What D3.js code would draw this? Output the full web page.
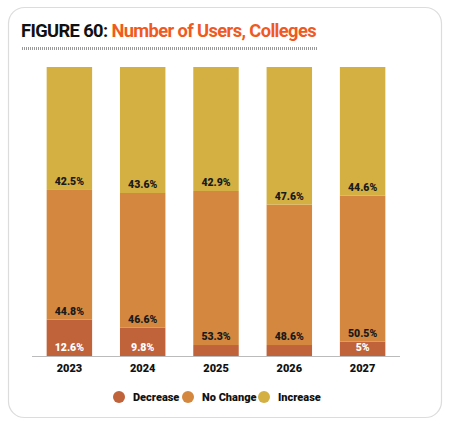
<!DOCTYPE html>
<html>
<head>
<meta charset="utf-8">
<script src="https://cdn.jsdelivr.net/npm/d3@7"></script>
<style>
  body { margin: 0; background: #fff; }
  svg { display: block; font-family: Roboto, "Liberation Sans", sans-serif; }
</style>
</head>
<body>
<svg id="chart"></svg>
<script>
const years = ["2023", "2024", "2025", "2026", "2027"];
const seriesNames = ["Decrease", "No Change", "Increase"];
const decrease = [12.6, 9.8, 3.8, 3.8, 5];
const noChange = [44.8, 46.6, 53.3, 48.6, 50.5];
const increase = [42.5, 43.6, 42.9, 47.6, 44.6];
const colors = ["#c0623a", "#d4883f", "#d4b043"];

const width = 450, height = 426;
const svg = d3.select("#chart").attr("width", width).attr("height", height);

// card
svg.append("rect")
    .attr("x", 8.5).attr("y", 7.5)
    .attr("width", 433).attr("height", 410)
    .attr("rx", 16)
    .attr("fill", "#fff")
    .attr("stroke", "#dcdcdc")
    .attr("stroke-width", 1.2);

// title
const title = svg.append("text")
    .attr("x", 21).attr("y", 37)
    .attr("font-size", 18)
    .attr("font-weight", 700)
    .attr("letter-spacing", -0.6)
    .attr("textLength", 295)
    .attr("lengthAdjust", "spacingAndGlyphs");
title.append("tspan").attr("fill", "#111").text("FIGURE 60: ");
title.append("tspan").attr("fill", "#f05a22").text("Number of Users, Colleges");

svg.append("line")
    .attr("x1", 22).attr("x2", 317)
    .attr("y1", 48.5).attr("y2", 48.5)
    .attr("stroke", "#999")
    .attr("stroke-width", 3)
    .attr("stroke-dasharray", "1,1");

const rows = years.map((y, i) => ({
  year: y,
  "Decrease": decrease[i],
  "No Change": noChange[i],
  "Increase": increase[i]
}));
// bars are drawn as shares of 100%
const stacked = d3.stack().keys(seriesNames).offset(d3.stackOffsetExpand)(rows);

const x = d3.scaleBand(years, [32, 400]).paddingInner(0.38).paddingOuter(0.2);
const y = d3.scaleLinear([0, 1], [356, 67]);

const groups = svg.append("g")
  .selectAll("g")
  .data(stacked)
  .join("g")
    .attr("fill", (d, i) => colors[i]);

groups.selectAll("rect")
  .data(d => d)
  .join("rect")
    .attr("x", d => x(d.data.year))
    .attr("y", d => y(d[1]))
    .attr("width", x.bandwidth())
    .attr("height", d => y(d[0]) - y(d[1]));

// value labels at the bottom of each segment
stacked.forEach((s, si) => {
  svg.append("g")
    .selectAll("text")
    .data(s.filter(d => d.data[s.key] >= 4.5))
    .join("text")
      .attr("x", d => x(d.data.year) + x.bandwidth() / 2)
      .attr("y", d => y(d[0]) - 5)
      .attr("text-anchor", "middle")
      .attr("font-size", 10.5)
      .attr("font-weight", 900)
      .attr("fill", si === 0 ? "#fff" : "#1a1a1a")
      .text(d => d.data[s.key] + "%");
});

// x axis
const xAxis = g => g
  .attr("transform", "translate(0,356)")
  .call(d3.axisBottom(x).tickSize(0).tickPadding(8))
  .call(g => g.select(".domain").attr("stroke", "#bbb").attr("d", "M32,0.5H400"))
  .call(g => g.selectAll("text")
    .attr("font-size", 11)
    .attr("font-weight", 900)
    .attr("fill", "#111")
    .attr("font-family", "Roboto, sans-serif"));
svg.append("g").call(xAxis);

// legend
const legendX = [119, 188, 264];
const legend = svg.append("g")
  .selectAll("g")
  .data(seriesNames)
  .join("g")
    .attr("transform", (d, i) => `translate(${legendX[i]},397)`);
legend.append("circle").attr("r", 6).attr("fill", (d, i) => colors[i]);
legend.append("text")
    .attr("x", 14).attr("dy", "0.35em")
    .attr("font-size", 11)
    .attr("font-weight", 900)
    .attr("fill", "#111")
    .text(d => d);
</script>
</body>
</html>
